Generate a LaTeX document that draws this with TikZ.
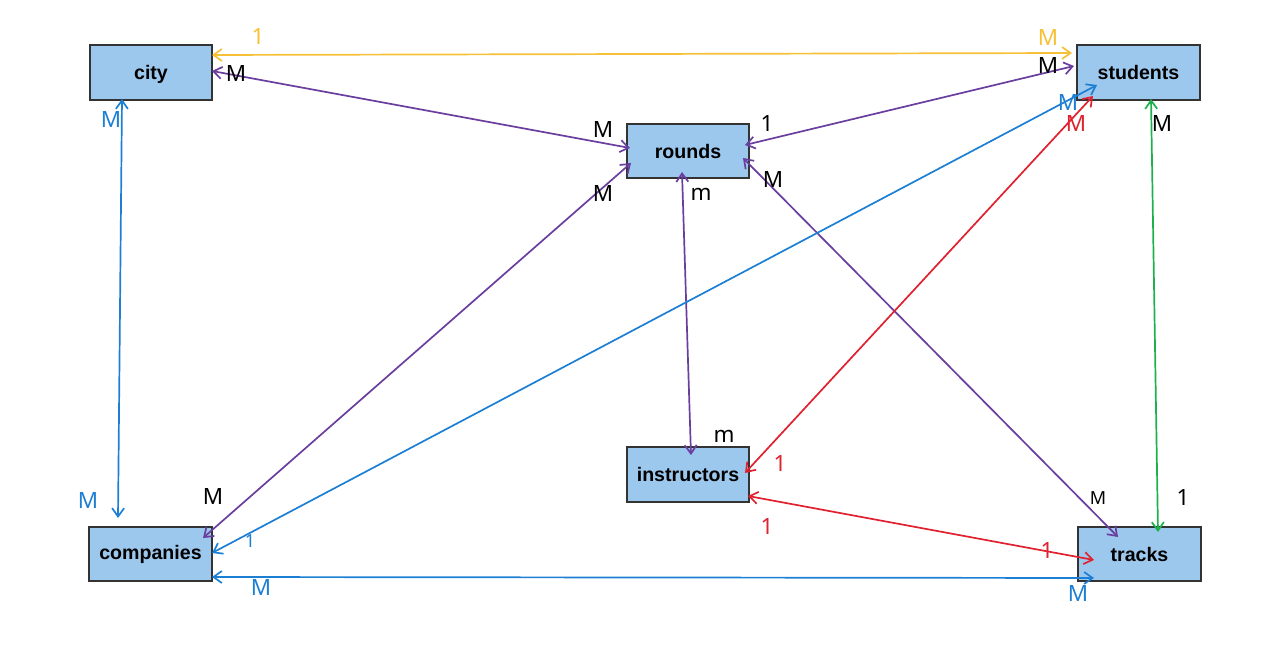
\documentclass[tikz,border=0pt]{standalone}
\usepackage{fontspec}
\setmainfont{Liberation Sans}
\newfontfamily\labfont{Noto Sans}
\usetikzlibrary{arrows.meta,calc}
\definecolor{boxfill}{HTML}{9DC8EE}
\definecolor{boxline}{HTML}{333333}
\definecolor{cyel}{HTML}{F7C137}
\definecolor{cpur}{HTML}{6A3E9E}
\definecolor{cblu}{HTML}{1C7FD4}
\definecolor{cred}{HTML}{E0212F}
\definecolor{cgrn}{HTML}{1DB14E}
\tikzset{
  entity/.style={draw=boxline, fill=boxfill, line width=0.8pt, inner sep=0pt,
    font=\bfseries\fontsize{9.8pt}{11pt}\selectfont},
  rel/.style={line width=0.85pt, {Straight Barb[length=4.2pt,width=6pt]}-{Straight Barb[length=4.2pt,width=6pt]}},
  lab/.style={font=\labfont\fontsize{11.2pt}{13pt}\selectfont, inner sep=0pt},
  slab/.style={font=\labfont\fontsize{9pt}{11pt}\selectfont, inner sep=0pt},
}
\begin{document}
\begin{tikzpicture}[x=0.5pt,y=-0.5pt]
\useasboundingbox (0,0) rectangle (1280,646);
% entities
\node[entity, minimum width=61pt, minimum height=27.5pt, text depth=0pt] (city) at (151,72.5) {city};
\node[entity, minimum width=61.5pt, minimum height=27.5pt] (students) at (1138.5,72.5) {students};
\node[entity, minimum width=61pt, minimum height=27pt] (rounds) at (688,151) {rounds};
\node[entity, minimum width=61pt, minimum height=27.5pt] (instructors) at (688,474.5) {instructors};
\node[entity, minimum width=61.5pt, minimum height=27pt] (companies) at (150.5,554) {companies};
\node[entity, minimum width=61.5pt, minimum height=27pt] (tracks) at (1139.5,554) {tracks};
% yellow
\draw[rel, cyel] ($(city)+(61,-17.5)$) -- ($(students)+(-66.5,-19.5)$);
% purple
\draw[rel, cpur] ($(city)+(61,-1.5)$) -- ($(rounds)+(-58,-3)$);
\draw[rel, cpur] ($(rounds)+(57,-6)$) -- ($(students)+(-64.5,-6.5)$);
\draw[rel, cpur] ($(rounds)+(-57,12)$) -- ($(companies)+(52.5,-16)$);
\draw[rel, cpur] ($(rounds)+(-6,21)$) -- ($(instructors)+(3,-19.5)$);
\draw[rel, cpur] ($(rounds)+(55,7)$) -- ($(tracks)+(-21.5,-17)$);
% blue
\draw[rel, cblu] ($(city)+(-29,26.5)$) -- ($(companies)+(-32.5,-36)$);
\draw[rel, cblu] ($(students)+(-41.5,12.5)$) -- ($(companies)+(61.5,-1)$);
\draw[rel, cblu] ($(companies)+(61.5,23)$) -- ($(tracks)+(-45.5,24)$);
% red
\draw[rel, cred] ($(students)+(-45.5,23.5)$) -- ($(instructors)+(57,-1.5)$);
\draw[rel, cred] ($(instructors)+(60,21.5)$) -- ($(tracks)+(-45.5,6)$);
% green
\draw[rel, cgrn] ($(students)+(12.5,26.5)$) -- ($(tracks)+(18.5,-22)$);
% labels
\node[lab, cyel] (l1) at (258,37) {1};
\node[lab, cyel] (l2) at (1048,38) {M};
\node[lab] (l3) at (236,74) {M};
\node[lab] (l4) at (603,130) {M};
\node[lab] (l5) at (767,124) {1};
\node[lab] (l6) at (1048,66) {M};
\node[lab] (l7) at (603,194) {M};
\node[lab] (l8) at (213,497) {M};
\node[lab] (l9) at (701,194) {m};
\node[lab] (l10) at (724,436) {m};
\node[lab] (l11) at (773,180) {M};
\node[slab] (l12) at (1098,498) {M};
\node[lab, cblu] (l13) at (111,120) {M};
\node[lab, cblu] (l14) at (88,501) {M};
\node[lab, cblu] (l15) at (1068,103) {M};
\node[slab, cblu] (l16) at (250,541) {1};
\node[lab, cblu] (l17) at (261,588) {M};
\node[lab, cblu] (l18) at (1078,594) {M};
\node[lab, cred] (l19) at (1076,124) {M};
\node[lab, cred] (l20) at (780,464) {1};
\node[lab, cred] (l21) at (767,527) {1};
\node[lab, cred] (l22) at (1047,551) {1};
\node[lab] (l23) at (1162,124) {M};
\node[lab] (l24) at (1183,498) {1};
\end{tikzpicture}
\end{document}
